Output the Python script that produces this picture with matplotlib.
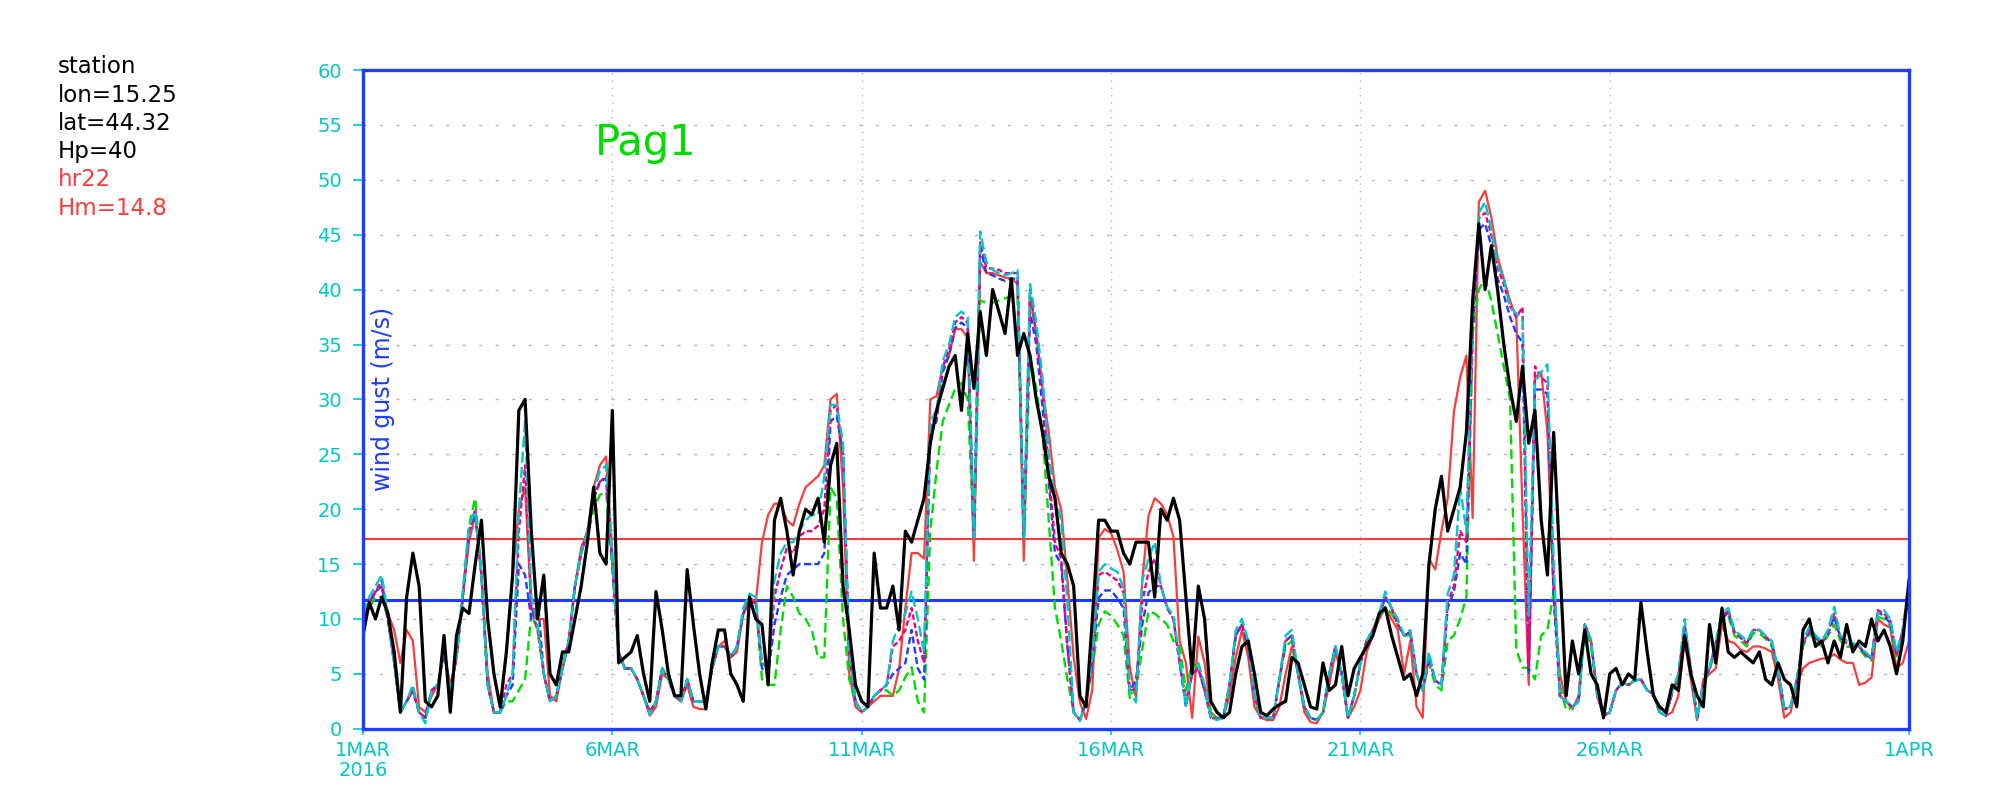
import matplotlib
matplotlib.use('Agg')
import matplotlib.pyplot as plt
from matplotlib import font_manager
import pandas as pd

plt.rcParams['font.family'] = ['DejaVu Sans']
plt.rcParams['lines.scale_dashes'] = False

# wind gust (m/s), 3-hourly, 1 Mar 2016 00 UTC -> 1 Apr 2016 00 UTC
times = pd.date_range('2016-03-01 00:00', '2016-04-01 00:00', freq='3h')

# observations (black)
obs = [
    8.5, 11.5, 10, 12, 10.5, 7, 1.5, 12,
    16, 13, 2.5, 2, 3, 8.5, 1.5, 8.5,
    11, 10.5, 15, 19, 10, 5, 2, 7,
    14, 29, 30, 18, 10, 14, 5, 4,
    7, 7, 10, 13, 17, 22, 16, 15,
    29, 6, 6.5, 7, 8.5, 5, 2.5, 12.5,
    9, 5, 3, 3, 14.5, 9.5, 5, 1.8,
    6, 9, 9, 5, 4, 2.5, 12, 10,
    9.5, 4, 19, 21, 18, 14, 18, 20,
    19.5, 21, 17, 24, 26, 13, 9, 4,
    2.5, 2, 16, 11, 11, 13, 9, 18,
    17, 19, 21, 26, 29, 31, 33, 34,
    29, 36, 31, 38, 34, 40, 38, 36,
    41, 34, 36, 34, 30, 27, 23, 21,
    16, 15, 13, 3, 2, 10, 19, 19,
    18, 18, 16, 15, 17, 17, 17, 12,
    20, 19, 21, 19, 12, 5, 13, 10,
    2.5, 1.5, 1, 1.5, 5, 7.5, 8, 5,
    1.5, 1.2, 1.8, 2.2, 2.5, 6.5, 6, 4,
    2, 1.8, 6, 3.5, 4, 7.5, 3, 5.5,
    6.5, 7.5, 8.5, 10.5, 11, 8.5, 6.5, 4.5,
    5, 3, 5, 15, 20, 23, 18, 20,
    22, 27, 39, 46, 40, 44, 40, 35,
    31, 28, 33, 26, 29, 19, 14, 27,
    15, 3, 8, 5, 9, 5, 4, 1,
    5, 5.5, 4, 5, 4.5, 11.5, 7, 3,
    2, 1.5, 4, 3.5, 8.5, 5, 3, 2,
    9.5, 6, 11, 7, 6.5, 7, 6.5, 6,
    7, 4.5, 4, 6, 4.5, 4, 2, 9,
    10, 7.5, 8, 6, 8, 6.5, 9.5, 7,
    8, 7.5, 10, 8, 9, 7.5, 5, 8,
    13.5,
]

# model runs
run_red = [
    10.5, 11, 12.5, 13, 10.5, 9, 6, 9,
    8, 2, 1.5, 3, 4, 7, 4, 6.5,
    12, 17, 19.5, 14, 5, 1.5, 1.5, 7,
    14, 20, 22, 11, 10, 10, 3, 2.5,
    5.5, 8, 13, 16.5, 18, 22, 24, 24.8,
    16, 7, 5.5, 5.5, 4.5, 3, 1.2, 2,
    5, 4.5, 3, 2.5, 4, 2, 1.8, 1.8,
    5.5, 7.5, 8, 6.5, 7, 10.5, 12, 11.5,
    17, 19.5, 20.5, 20.5, 19, 18.5, 20.5, 22,
    22.5, 23, 24, 30, 30.5, 22, 5, 2,
    1.5, 2, 2.5, 3, 3, 3, 5.5, 11,
    16, 16, 15.5, 30, 30.3, 33, 34, 36.4,
    36.4, 35.6, 15.3, 42.5, 41.5, 41.5, 41.3, 41.1,
    41, 40.5, 15.3, 39.5, 36, 31, 27, 22,
    20, 13.5, 6.5, 2.4, 0.9, 3.6, 17.4, 18.2,
    17.8, 16.3, 14.3, 5.6, 2.8, 13.5, 19.4, 21,
    20.5, 19.5, 17.5, 8, 6, 1, 8.4, 6,
    1.5, 1, 1, 3, 6.5, 9, 6.5, 2,
    1, 0.8, 0.8, 2, 5, 7.5, 5, 1.5,
    0.6, 0.5, 1.5, 4, 7, 5, 1, 2,
    3.5, 7, 8.5, 10, 11, 10, 9, 5,
    8, 2, 1, 15.5, 14.5, 18, 21, 28.9,
    32, 34, 19.2, 48, 49, 46.6, 43, 41,
    39, 37.5, 20, 4, 32, 32.5, 27, 12,
    5, 2.5, 1.8, 3, 9.5, 8, 3, 1.2,
    1.5, 3.5, 4.2, 4, 4.4, 4.5, 3.5, 3.2,
    1.5, 1.2, 1.5, 3, 8, 4.5, 0.8, 4.5,
    5, 5.5, 9.5, 8, 7.8, 7.2, 7, 7.5,
    7.5, 7.3, 7, 4.5, 1, 1.5, 4, 5.5,
    6, 6.2, 6.4, 6.4, 6.8, 6.3, 6, 6,
    4, 4.2, 4.7, 10, 9.5, 9.2, 5.5, 6,
    8,
]

run_green = [
    10, 11, 12, 12, 10, 6, 1.5, 2.5,
    3.5, 1.5, 1, 3.5, 4, 7, 3.5, 6.5,
    12, 18.5, 21, 14, 4, 1.5, 1.5, 2.5,
    2.5, 3.5, 4.5, 10.5, 9, 5, 2.5, 3,
    5.5, 8, 13, 16, 17.5, 20, 21.3, 21.6,
    14.5, 7, 5.5, 5.5, 4.5, 3, 1.5, 2.5,
    5.5, 4.5, 3, 2.5, 4.5, 2.5, 2.5, 2.5,
    5.5, 7.5, 7.5, 6.5, 7.5, 10.5, 11.5, 11.5,
    4.5, 4, 4, 9, 13, 12, 10.5, 10,
    9, 6.5, 6.5, 22, 21, 10, 4.5, 2.5,
    1.5, 2, 3, 3.5, 3.5, 3, 3.5, 4.7,
    5.6, 2.5, 1.5, 18, 23.5, 28, 29.5, 31,
    31.5, 30, 17.4, 39, 38.8, 38.8, 39, 39.2,
    39.4, 39.5, 17.4, 34, 31, 27, 19, 11,
    8, 4.5, 1.5, 0.8, 2.5, 5.5, 9.5, 10.7,
    10.3, 9.5, 8.5, 2.8, 3.6, 7.2, 10.7, 10.5,
    10, 9.5, 8, 7.5, 3.5, 6, 5.5, 4,
    1.5, 0.9, 1, 4, 8.5, 9.5, 7.5, 3,
    1, 1, 1, 4.5, 7.5, 8, 5, 2,
    1, 0.8, 1.5, 5, 7.5, 5, 1, 3,
    6, 8, 9, 10, 11.1, 10.5, 9.5, 8.5,
    8.5, 5, 3.5, 6, 4, 3.5, 8, 8.5,
    10, 12, 36, 40, 41, 39, 36, 33,
    30, 7.2, 5.6, 5.5, 4.5, 8.5, 9, 12.5,
    4, 1.7, 2, 2.5, 9, 7.5, 3, 1.2,
    1.5, 3.5, 4.2, 4, 4.4, 4.5, 3.5, 3.2,
    1.5, 1.2, 3.2, 4.5, 8.5, 5.2, 1, 4,
    5.3, 7.5, 9.8, 10.3, 8.5, 8, 7.5, 8.7,
    8.7, 8.2, 7.5, 5.2, 1.8, 2, 4.3, 7.5,
    8.7, 8, 7.5, 8.5, 9.5, 8, 7.5, 7.4,
    7.3, 6.6, 6.2, 10.2, 10, 9.4, 6.6, 8.5,
    12.5,
]

run_blue = [
    10, 11.5, 12.5, 13, 10, 6, 1.5, 2.5,
    3.5, 1.5, 1, 3.5, 4, 7, 3.5, 6.5,
    12, 18, 19.5, 14, 4, 1.5, 1.5, 3,
    4, 15, 14, 10, 12, 5, 2.5, 3,
    5.5, 8, 13, 16, 18, 21, 22.5, 22.8,
    15, 7, 5.5, 5.5, 4.5, 3, 1.5, 2.5,
    5.5, 4.5, 3, 2.5, 4.5, 2.5, 2.5, 2.5,
    5.5, 7.5, 7.5, 6.5, 7.5, 10.5, 11.5, 11.5,
    5.5, 5, 9.5, 12, 14, 14.5, 15, 15,
    15, 15, 16, 28, 28.5, 25, 7, 2.5,
    1.5, 2, 3, 3.5, 4, 5, 5.5, 6,
    9, 5.5, 4.5, 27, 28, 32.5, 34, 36.5,
    37, 36.5, 17.4, 43.9, 41.5, 41.3, 41, 40.8,
    41, 41, 17.4, 38, 35, 29.3, 22.5, 16,
    15, 7.5, 1.5, 0.8, 2.5, 6, 11.9, 12.6,
    12.6, 11.9, 11, 3.5, 4.4, 9.5, 12.4, 13,
    13, 11, 10, 6, 2, 5, 5.5, 3.5,
    1, 0.9, 1, 4, 8.5, 9.5, 7.5, 3,
    1, 1, 1, 4.5, 8, 8.5, 5, 2,
    1, 0.8, 1.5, 5, 7.5, 5, 1, 3,
    6, 8, 9, 10.3, 12, 11, 9.5, 8.5,
    8.8, 5, 3.5, 6.5, 4.4, 4, 11, 12.5,
    16, 15, 36, 45.5, 46, 44, 41, 39.5,
    37.5, 36, 35.2, 5, 30.9, 30.9, 30.5, 12,
    3, 2.5, 2, 2.5, 9.5, 8, 3, 1.2,
    1.5, 3.5, 4.2, 4, 4.4, 4.5, 3.5, 3.2,
    1.5, 1.2, 3.3, 4.8, 9.3, 5.5, 1, 4,
    5.5, 7.8, 10, 10.6, 8.8, 8.3, 7.8, 9,
    9, 8.4, 7.8, 5.4, 1.8, 2, 4.5, 7.8,
    8.8, 8.3, 7.8, 8.6, 10.2, 8.3, 7.8, 7.6,
    7.5, 6.8, 6.4, 10.6, 10.3, 9.6, 6.8, 8.8,
    12.8,
]

run_magenta = [
    10, 11.5, 12.5, 13.5, 10, 6, 1.5, 2.5,
    3.5, 1.5, 1, 3.5, 4, 7, 3.5, 6.5,
    12, 18, 20, 14, 4, 1.5, 1.5, 4,
    5, 18, 24, 11, 9, 5, 2.5, 3,
    5.5, 8, 13, 16, 18, 21, 22.5, 23,
    15, 7, 5.5, 5.5, 4.5, 3, 1.5, 2.5,
    5.5, 4.5, 3, 2.5, 4.5, 2.5, 2.5, 2.5,
    5.5, 7.5, 7.5, 6.5, 7.5, 10.5, 11.5, 11.5,
    6, 5.5, 12, 14.5, 16.5, 16, 17.5, 18,
    18, 18.5, 20, 29, 29.5, 25, 7, 2.5,
    1.5, 2, 3, 3.5, 4, 7.5, 8, 9,
    11, 8, 6, 27.5, 28.5, 33, 34.5, 37,
    37.5, 37, 17.4, 44.3, 42, 41.9, 41.8, 41.5,
    41.5, 41.5, 17.4, 40, 36, 31, 23.5, 17,
    15.5, 7.5, 1.5, 0.8, 2.5, 6, 14, 14.3,
    13.9, 13.5, 12.4, 3.5, 3.6, 11.5, 14.3, 15.5,
    13, 11, 10, 6, 2.5, 5, 5.5, 3.5,
    1, 0.9, 1, 4, 8.5, 9.5, 7.5, 3,
    1, 1, 1, 4.5, 8, 8.5, 5, 2,
    1, 0.8, 1.5, 5, 7.5, 5, 1, 3,
    6, 8, 9, 10.3, 12, 11, 9.5, 8.5,
    8.8, 5, 3.5, 6.5, 4.4, 4, 11.5, 13,
    18, 17, 37, 46.5, 47, 45, 42, 40.5,
    38.5, 37.5, 38.4, 5.6, 33, 32, 31.5, 14,
    3, 2.5, 2, 2.5, 9.5, 8, 3, 1.2,
    1.5, 3.5, 4.2, 4, 4.4, 4.5, 3.5, 3.2,
    1.5, 1.2, 3.3, 4.8, 9.5, 5.5, 1, 4,
    5.5, 7.8, 10.2, 10.8, 8.8, 8.3, 7.8, 9,
    9, 8.4, 7.8, 5.4, 1.8, 2, 4.5, 7.8,
    9, 8.3, 7.8, 8.8, 10.5, 8.3, 7.8, 7.6,
    7.5, 6.8, 6.4, 10.8, 10.5, 9.8, 6.8, 9,
    13,
]

run_cyan = [
    10.5, 12, 13, 14, 10.5, 6, 1.5, 2.5,
    4, 1.5, 0.5, 3.5, 4, 7, 3.5, 6.5,
    12.5, 18.5, 19.8, 14, 4, 1.5, 1.5, 3,
    5, 20, 28, 12, 9.5, 5, 2.5, 3,
    5.5, 8, 13, 16, 18, 21.5, 23.5, 24,
    15.5, 7, 5.5, 5.5, 4.5, 3, 1.3, 2.5,
    5.5, 4.5, 3, 2.5, 4.5, 2.5, 2.5, 2.5,
    5.5, 7.5, 7.5, 6.5, 7.5, 11, 12.3, 12,
    6, 5.5, 13.5, 16, 17, 17, 18, 19,
    19.5, 19.5, 23, 29.5, 29.5, 26, 7, 2.5,
    1.5, 2, 3, 3.5, 4, 8, 9.5, 10.5,
    12.5, 10, 7, 28, 29, 33.5, 35, 37.5,
    38, 37.5, 17.4, 45.3, 42.5, 41.8, 41.5, 41.3,
    41.5, 41.8, 17.4, 40.5, 37, 32, 25, 21,
    19, 11.5, 1.5, 0.7, 2.5, 6.5, 14.3, 15,
    14.6, 14.3, 12.8, 3.5, 2.4, 13.5, 15.5, 17,
    13, 11.1, 10.3, 6.4, 2, 5.5, 6, 4,
    1, 0.8, 1, 4, 9, 10, 8, 3,
    1, 1, 1, 4.5, 8.5, 9, 5, 2,
    1, 0.8, 1.5, 5, 7.5, 5, 1, 3,
    6, 8, 9, 10.5, 12.5, 11, 10, 8.5,
    9, 5, 3.5, 7, 4.4, 4, 12.3, 14,
    22, 18, 38, 47, 48, 45.5, 42.3, 41,
    38.5, 37.8, 37.5, 10.3, 31.5, 32.5, 33.2, 15,
    3, 2.5, 2, 2.5, 9.5, 8, 3, 1.2,
    1.5, 3.5, 4.2, 4, 4.4, 4.5, 3.5, 3.2,
    1.5, 1.2, 3.5, 5, 10, 5.5, 1, 4,
    5.5, 8, 10.5, 11, 9, 8.5, 8, 9,
    9, 8.5, 8, 5.5, 1.8, 2, 4.5, 8,
    9.3, 8.5, 8, 9, 11.1, 8.5, 8, 7.8,
    7.6, 7, 6.5, 10.5, 10.8, 10, 7, 9,
    13.5,
]

thr_red = 17.3
thr_blue = 11.7

tick_days = ['2016-03-01', '2016-03-06', '2016-03-11', '2016-03-16',
             '2016-03-21', '2016-03-26', '2016-04-01']
tick_labels = ['1MAR\n2016', '6MAR', '11MAR', '16MAR', '21MAR', '26MAR', '1APR']

info_black = ['station', 'lon=15.25', 'lat=44.32', 'Hp=40']
info_red = ['hr22', 'Hm=14.8']

for name, s in [('obs', obs), ('red', run_red), ('green', run_green),
                ('blue', run_blue), ('magenta', run_magenta), ('cyan', run_cyan)]:
    if len(s) != len(times):
        raise ValueError(f'{name}: {len(s)} values, expected {len(times)}')

# GrADS default colours
RED = '#fa3c3c'
GREEN = '#00dc00'
BLUE = '#1e3cff'
MAGENTA = '#f00082'
CYAN = '#00c8c8'
GRID = '#b4b4b4'

fig = plt.figure(figsize=(20, 8), dpi=100)
ax = fig.add_axes([0.1815, 0.089, 0.773, 0.8235])

ax.axhline(thr_red, color=RED, lw=1.5, zorder=2)
ax.axhline(thr_blue, color=BLUE, lw=2.2, zorder=2)

ax.plot(times, run_red, color=RED, lw=1.6, zorder=3)
ax.plot(times, run_green, color=GREEN, lw=1.7, dashes=(7, 3.5), zorder=3)
ax.plot(times, run_blue, color=BLUE, lw=1.7, dashes=(5, 2.5), zorder=3)
ax.plot(times, run_magenta, color=MAGENTA, lw=1.7, dashes=(4, 2), zorder=3)
ax.plot(times, run_cyan, color=CYAN, lw=1.7, dashes=(8, 3), zorder=3)
ax.plot(times, obs, color='black', lw=2.3, zorder=4)

ax.set_xlim(times[0], times[-1])
ax.set_ylim(0, 60)
ax.set_yticks(range(0, 61, 5))
ax.set_xticks(pd.to_datetime(tick_days))
ax.set_xticklabels(tick_labels, linespacing=1.05)

ax.xaxis.grid(True, color=GRID, linestyle=(0, (1, 4.3)), lw=1.0)
ax.yaxis.grid(True, color=GRID, linestyle=(0, (2.2, 9.7)), lw=1.0)
ax.set_axisbelow(True)

for sp in ax.spines.values():
    sp.set_color(BLUE)
    sp.set_linewidth(2.4)
    sp.set_zorder(5)

ax.tick_params(axis='y', direction='out', length=7, width=1.2, color=CYAN,
               labelcolor=CYAN, labelsize=14, pad=8)
ax.tick_params(axis='x', direction='out', length=4, width=1.2, color=CYAN,
               labelcolor=CYAN, labelsize=14, pad=5)

# y label drawn inside the frame, as in the original
names = {f.name for f in font_manager.fontManager.ttflist}
lab_font = 'Liberation Sans Narrow' if 'Liberation Sans Narrow' in names else 'DejaVu Sans'
ax.text(0.013, 0.5, 'wind gust (m/s)', transform=ax.transAxes, rotation=90,
        ha='center', va='center', color=BLUE, fontsize=17, family=lab_font)

ax.text(0.183, 0.871, 'Pag1', transform=ax.transAxes, color=GREEN,
        fontsize=30, ha='center', va='baseline')

# station info at the top left
lines = [(s, 'black') for s in info_black] + [(s, RED) for s in info_red]
for i, (s, c) in enumerate(lines):
    fig.text(58 / 2000, 1 - (73.3 + 28.3 * i) / 800, s, color=c, fontsize=16.5,
             ha='left', va='baseline')

fig.savefig('out.png', dpi=100)
